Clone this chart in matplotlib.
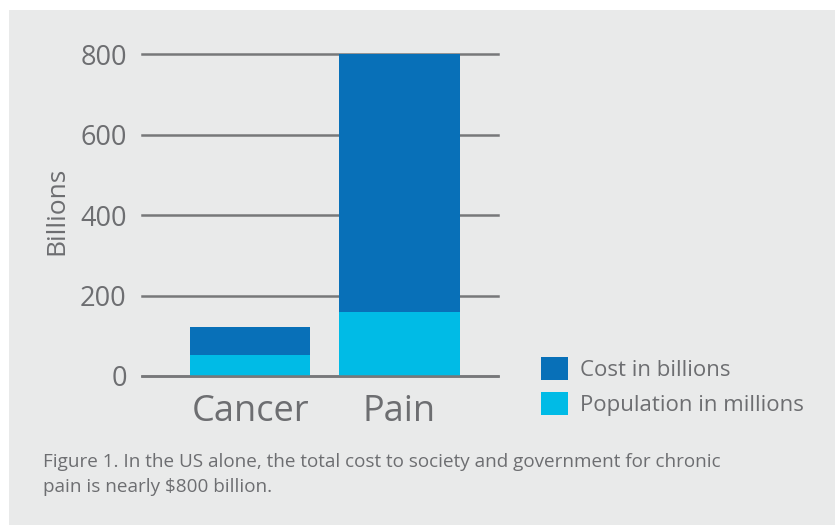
import matplotlib
matplotlib.use("Agg")
import matplotlib.pyplot as plt
from matplotlib.patches import Rectangle, Patch

# Data
categories = ["Cancer", "Pain"]
population_millions = [52, 160]
cost_billions = [70, 640]
y_ticks = [0, 200, 400, 600, 800]
series_labels = ["Cost in billions", "Population in millions"]
y_label = "Billions"
caption = ("Figure 1. In the US alone, the total cost to society and government for chronic\n"
           "pain is nearly $800 billion.")

DARK_BLUE = "#0870b8"
LIGHT_BLUE = "#00bbe6"
PANEL = "#e9eaea"
GRID = "#77787a"
TEXT = "#6d6e71"

plt.rcParams["font.family"] = ["Open Sans", "DejaVu Sans"]

W, H = 835, 525
fig = plt.figure(figsize=(W / 100, H / 100), dpi=100)
fig.patch.set_facecolor("white")

# Light grey panel behind everything
panel = Rectangle((9 / W, 0), 1 - 9 / W, 1 - 10 / H,
                  transform=fig.transFigure, facecolor=PANEL,
                  edgecolor="none", zorder=-10)
fig.add_artist(panel)

ax = fig.add_axes([142 / W, (H - 376) / H, 356 / W, 322 / H])
ax.set_zorder(1)
ax.set_facecolor("none")

x = list(range(len(categories)))
ax.set_xlim(-0.725, 1.66)
ax.set_ylim(0, 800)

# Horizontal grid lines
for t in y_ticks:
    ax.axhline(t, color=GRID, lw=1.8, zorder=1, clip_on=False)

ax.bar(x, population_millions, width=0.805, color=LIGHT_BLUE, zorder=2)
ax.bar(x, cost_billions, width=0.805, bottom=population_millions,
       color=DARK_BLUE, zorder=2)
ax.axhline(0, color=GRID, lw=1.8, zorder=3, clip_on=False)

for s in ax.spines.values():
    s.set_visible(False)

ax.set_yticks(y_ticks)
ax.set_yticklabels([str(t) for t in y_ticks], fontsize=19.5, color=TEXT)
ax.tick_params(axis="y", length=0, pad=11)
ax.set_xticks(x)
ax.set_xticklabels(categories, fontsize=26, color=TEXT)
ax.tick_params(axis="x", length=0, pad=13)

fig.text(57 / W, 1 - 211 / H, y_label, rotation=90, fontsize=19,
         color=TEXT, ha="center", va="center")

handles = [Patch(facecolor=DARK_BLUE, edgecolor="none"),
           Patch(facecolor=LIGHT_BLUE, edgecolor="none")]
fig.legend(handles, series_labels, loc="upper left",
           bbox_to_anchor=(541 / W, 1 - 357 / H), bbox_transform=fig.transFigure,
           frameon=False, fontsize=16, labelcolor=TEXT,
           handlelength=1.2, handleheight=1.2, handletextpad=0.55,
           labelspacing=0.5, borderpad=0, borderaxespad=0)

fig.text(43 / W, 1 - 453 / H, caption, fontsize=13.6, color=TEXT,
         ha="left", va="top", linespacing=1.5)

fig.savefig("out.png", dpi=100, facecolor=fig.get_facecolor())
